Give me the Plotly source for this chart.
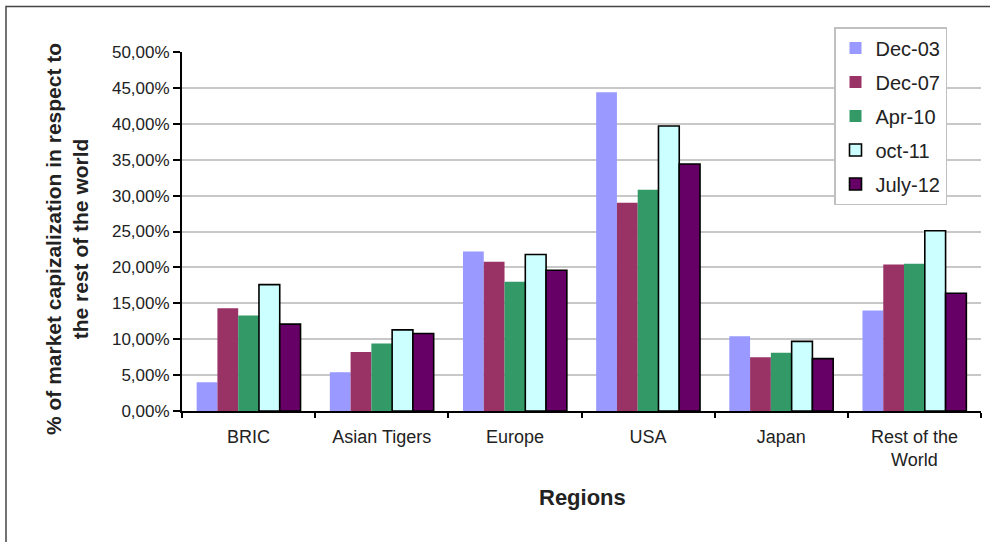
import plotly.graph_objects as go

regions = ["BRIC", "Asian Tigers", "Europe", "USA", "Japan", "Rest of the<br>World"]
series_names = ["Dec-03", "Dec-07", "Apr-10", "oct-11", "July-12"]
dec03 = [4.0, 5.4, 22.2, 44.4, 10.4, 14.0]
dec07 = [14.3, 8.2, 20.8, 29.0, 7.5, 20.4]
apr10 = [13.3, 9.4, 18.0, 30.8, 8.1, 20.5]
oct11 = [17.6, 11.3, 21.8, 39.7, 9.7, 25.1]
july12 = [12.1, 10.8, 19.6, 34.4, 7.3, 16.4]
y_ticks = [0, 5, 10, 15, 20, 25, 30, 35, 40, 45, 50]
y_tick_labels = ["0,00%", "5,00%", "10,00%", "15,00%", "20,00%", "25,00%",
                 "30,00%", "35,00%", "40,00%", "45,00%", "50,00%"]

series_values = [dec03, dec07, apr10, oct11, july12]
colors = ["#9999FF", "#993366", "#339966", "#CCFFFF", "#660066"]
line_widths = [0, 0, 0, 1.6, 1.6]

FONT = "Arial, Liberation Sans, sans-serif"
TXT = "#222222"

fig = go.Figure()
for name, vals, col, lw in zip(series_names, series_values, colors, line_widths):
    fig.add_trace(go.Bar(
        x=regions, y=vals, name=name, legendgroup=name,
        marker=dict(color=col, line=dict(color="#000000", width=lw)),
    ))

W, H = 990, 542
L, R, T, B = 182, 9, 52, 131
pw, ph = W - L - R, H - T - B

def px_x(p):
    return (p - L) / pw

def px_y(p):
    return (H - B - p) / ph

fig.update_layout(
    width=W, height=H,
    margin=dict(l=L, r=R, t=T, b=B, pad=0),
    paper_bgcolor="white", plot_bgcolor="white",
    barmode="group", bargap=0.22, bargroupgap=0,
    font=dict(family=FONT, size=17, color=TXT),
    showlegend=True,
    legend=dict(
        x=px_x(834), y=px_y(27), xanchor="left", yanchor="top",
        bordercolor="#c0c0c0", borderwidth=1.5, bgcolor="white",
        font=dict(family=FONT, size=20, color=TXT),
        tracegroupgap=5, traceorder="grouped", itemwidth=30,
    ),
    xaxis=dict(
        showline=True, linecolor="#000000", linewidth=2,
        ticks="outside", tickson="boundaries", ticklen=5, tickwidth=2, tickcolor="#000000",
        showgrid=False, tickfont=dict(size=18, color=TXT), ticklabelstandoff=8,
        title=None,
    ),
    yaxis=dict(
        range=[0, 50], tickvals=y_ticks, ticktext=y_tick_labels,
        showline=True, linecolor="#000000", linewidth=2,
        ticks="outside", ticklen=7, tickwidth=2, tickcolor="#000000",
        showgrid=True, gridcolor="#c8c8c8", gridwidth=1.5,
        tickfont=dict(size=17, color=TXT), zeroline=False,
    ),
    shapes=[dict(
        type="rect", xref="paper", yref="paper",
        x0=px_x(6), x1=px_x(1000), y0=px_y(560), y1=px_y(6.5),
        line=dict(color="#444444", width=1.5), fillcolor="rgba(0,0,0,0)",
        layer="below",
    )],
    annotations=[
        dict(text="<b>% of market capizalization in respect to<br>the rest of the world</b>",
             xref="paper", yref="paper", x=px_x(67), y=px_y(239),
             xanchor="center", yanchor="middle", textangle=-90, showarrow=False,
             font=dict(family=FONT, size=21, color=TXT)),
        dict(text="<b>Regions</b>", xref="paper", yref="paper",
             x=px_x(582), y=px_y(498), xanchor="center", yanchor="middle",
             showarrow=False, font=dict(family=FONT, size=22, color=TXT)),
    ],
)

fig.write_html("out.html")
